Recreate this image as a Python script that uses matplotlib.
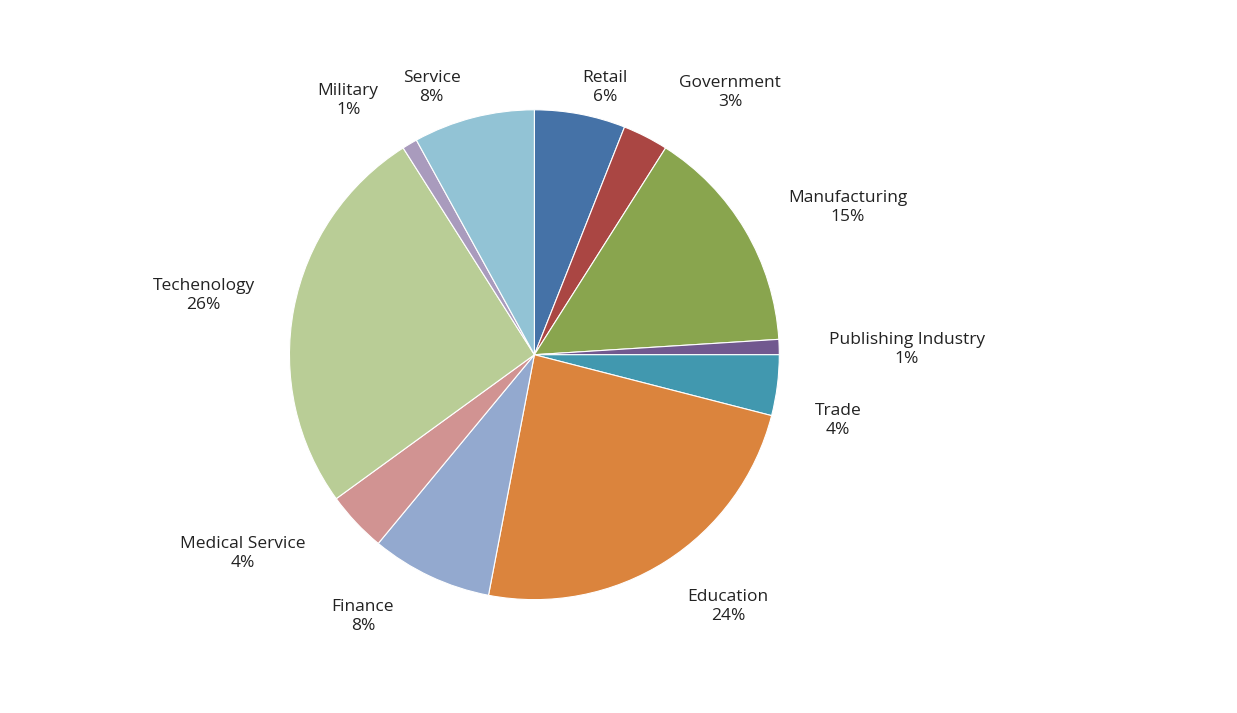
import matplotlib.pyplot as plt

sectors = ['Retail', 'Government', 'Manufacturing', 'Publishing Industry', 'Trade',
           'Education', 'Finance', 'Medical Service', 'Techenology', 'Military', 'Service']
shares = [6, 3, 15, 1, 4, 24, 8, 4, 26, 1, 8]
colors = ['#4572A7', '#AA4643', '#89A54E', '#71588F', '#4198AF', '#DB843D',
          '#93A9CF', '#D19392', '#B9CD96', '#A99BBD', '#92C3D5']
# label centres in units of the pie radius, relative to the centre
label_pos = [(0.29, 1.09), (0.80, 1.07), (1.28, 0.60), (1.52, 0.02), (1.24, -0.27),
             (0.79, -1.03), (-0.70, -1.07), (-1.19, -0.81), (-1.35, 0.24),
             (-0.76, 1.04), (-0.42, 1.09)]

fig = plt.figure(figsize=(12.37, 7.13), dpi=100)
ax = fig.add_axes([0.234, 0.159, 0.396, 0.687])
ax.pie(shares, colors=colors, startangle=90, counterclock=False,
       wedgeprops={'linewidth': 0.8, 'edgecolor': 'white'})
for name, val, (x, y) in zip(sectors, shares, label_pos):
    ax.text(x, y, f'{name}\n{val}%', ha='center', va='center',
            fontsize=12.5, family='Open Sans', color='#222222', linespacing=1.25)
ax.set_xlim(-1, 1)
ax.set_ylim(-1, 1)
ax.set_aspect('equal')
fig.savefig('out.png', dpi=100)
